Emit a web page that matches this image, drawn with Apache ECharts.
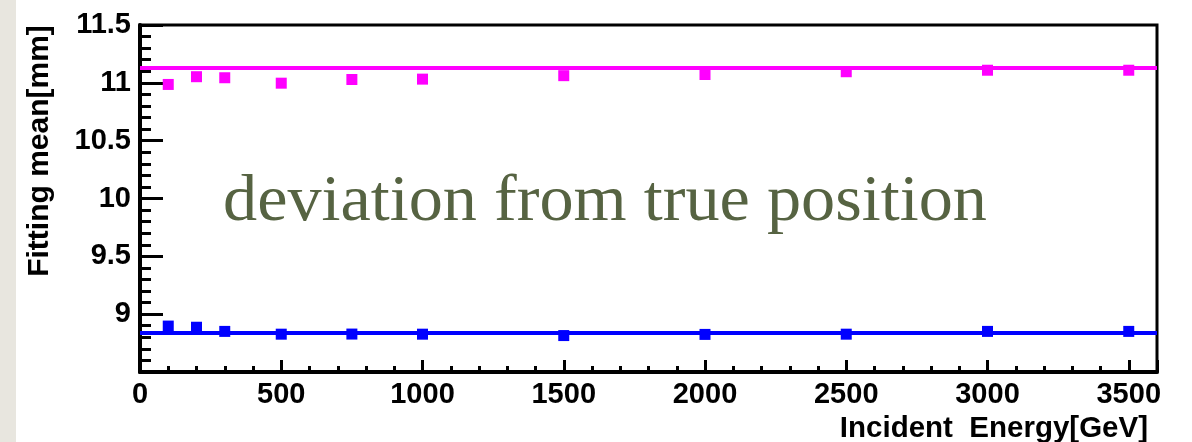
<!DOCTYPE html>
<html>
<head>
<meta charset="utf-8">
<script src="https://cdn.jsdelivr.net/npm/echarts@6/dist/echarts.min.js"></script>
<style>
html,body{margin:0;padding:0;background:#fff;}
#c{width:1192px;height:442px;}
</style>
</head>
<body>
<div id="c"></div>
<script>
// ---- data ----
const energies = [100, 200, 300, 500, 750, 1000, 1500, 2000, 2500, 3000, 3500];
const magentaMeans = [10.986, 11.053, 11.044, 10.997, 11.029, 11.032, 11.062, 11.072, 11.096, 11.109, 11.109];
const blueMeans = [8.897, 8.887, 8.851, 8.827, 8.828, 8.827, 8.815, 8.825, 8.827, 8.851, 8.851];
const magentaFit = 11.135;
const blueFit = 8.841;
const xTickLabels = ['0', '500', '1000', '1500', '2000', '2500', '3000', '3500'];
const yTickLabels = ['9', '9.5', '10', '10.5', '11', '11.5'];
const xTitle = 'Incident  Energy[GeV]';
const yTitle = 'Fitting mean[mm]';
const overlayText = 'deviation from true position';

const pair = (xs, ys) => xs.map((x, i) => [x, ys[i]]);
const labelFont = {fontFamily: 'Liberation Sans', fontWeight: 'bold', fontSize: 29, color: '#000'};

const chart = echarts.init(document.getElementById('c'), null, {renderer: 'canvas'});
chart.setOption({
  animation: false,
  backgroundColor: '#ffffff',
  grid: {left: 140, top: 25, right: 35, bottom: 70, show: true, borderColor: '#000', borderWidth: 3, backgroundColor: 'transparent'},
  xAxis: [{
    type: 'value', min: 0, max: 3600, interval: 500,
    axisLine: {show: true, onZero: false, lineStyle: {color: '#000', width: 4}},
    axisTick: {show: true, inside: true, length: 12, lineStyle: {color: '#000', width: 3}},
    splitLine: {show: false},
    axisLabel: Object.assign({margin: 8, formatter: v => xTickLabels.includes(String(v)) ? String(v) : ''}, labelFont)
  }, {
    type: 'value', min: 0, max: 3600, interval: 100, position: 'bottom',
    axisLine: {show: false},
    axisTick: {show: true, inside: true, length: 6, lineStyle: {color: '#000', width: 3}},
    splitLine: {show: false},
    axisLabel: {show: false}
  }],
  yAxis: {
    type: 'value', min: 8.5, max: 11.5, interval: 0.5,
    axisLine: {show: true, onZero: false, lineStyle: {color: '#000', width: 4}},
    axisTick: {show: true, inside: true, length: 23, lineStyle: {color: '#000', width: 3}},
    minorTick: {show: true, splitNumber: 5, length: 11, lineStyle: {color: '#000', width: 3}},
    splitLine: {show: false},
    axisLabel: Object.assign({margin: 9, formatter: v => yTickLabels.includes(String(v)) ? String(v) : ''}, labelFont)
  },
  series: [{
    type: 'scatter', xAxisIndex: 0, symbol: 'rect', symbolSize: 11,
    itemStyle: {color: '#ff00ff', opacity: 1},
    data: pair(energies, magentaMeans),
    markLine: {silent: true, symbol: 'none', label: {show: false}, lineStyle: {color: '#ff00ff', width: 4, type: 'solid', opacity: 1}, data: [{yAxis: magentaFit}]}
  }, {
    type: 'scatter', xAxisIndex: 0, symbol: 'rect', symbolSize: 11,
    itemStyle: {color: '#0000ff', opacity: 1},
    data: pair(energies, blueMeans),
    markLine: {silent: true, symbol: 'none', label: {show: false}, lineStyle: {color: '#0000ff', width: 4, type: 'solid', opacity: 1}, data: [{yAxis: blueFit}]}
  }],
  graphic: [
    {type: 'rect', left: 0, top: 0, z: -10, shape: {width: 16, height: 442}, style: {fill: '#e8e6df'}},
    {type: 'text', x: 40, y: 151, rotation: Math.PI / 2,
     style: {text: yTitle, fontFamily: 'Liberation Sans', fontWeight: 'bold', fontSize: 30, fill: '#000', align: 'center', verticalAlign: 'middle'}},
    {type: 'text', x: 1148, y: 429,
     style: {text: xTitle, fontFamily: 'Liberation Sans', fontWeight: 'bold', fontSize: 29.5, fill: '#000', align: 'right', verticalAlign: 'middle'}},
    {type: 'text', x: 223, y: 203, scaleX: 1.05,
     style: {text: overlayText, fontFamily: 'Liberation Serif', fontSize: 65, fill: '#566342', align: 'left', verticalAlign: 'middle'}}
  ]
});
</script>
</body>
</html>
